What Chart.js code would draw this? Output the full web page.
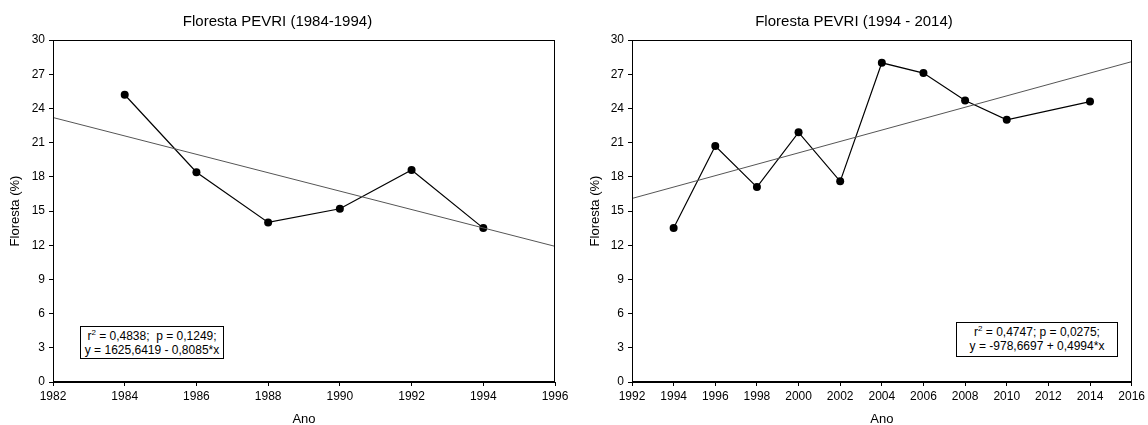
<!DOCTYPE html>
<html>
<head>
<meta charset="utf-8">
<script src="https://cdn.jsdelivr.net/npm/chart.js@4/dist/chart.umd.min.js"></script>
<style>
  body { margin: 0; background: #fff; }
  #wrap { position: relative; width: 1148px; height: 425px; font-family: "Liberation Sans", Arial, sans-serif; }
  .panel { position: absolute; top: 0; width: 574px; height: 425px; }
  .stat {
    position: absolute; background: #fff; border: 1px solid #000;
    font-size: 12px; line-height: 14px; color: #000; text-align: center;
    padding: 2px 0 1px 0; box-sizing: border-box; white-space: nowrap;
  }
  .stat sup { font-size: 8px; line-height: 0; vertical-align: 5px; }
</style>
</head>
<body>
<div id="wrap">
  <div class="panel" style="left:0"><canvas id="chart_a" width="574" height="425"></canvas></div>
  <div class="panel" style="left:574px"><canvas id="chart_b" width="574" height="425"></canvas></div>
  <div class="stat" style="left:80px; top:326px; width:144px; height:33px;">r<sup>2</sup> = 0,4838;&nbsp; p = 0,1249;<br>y = 1625,6419 - 0,8085*x</div>
  <div class="stat" style="left:956px; top:322px; width:162px; height:35px;">r<sup>2</sup> = 0,4747; p = 0,0275;<br>y = -978,6697 + 0,4994*x</div>
</div>
<script>
// period 1984-1994
var years_a = [1984, 1986, 1988, 1990, 1992, 1994];
var forest_a = [25.2, 18.4, 14.0, 15.2, 18.6, 13.5];
var trend_years_a = [1982, 1996];
var trend_vals_a = [23.2, 11.9];

// period 1994-2014
var years_b = [1994, 1996, 1998, 2000, 2002, 2004, 2006, 2008, 2010, 2014];
var forest_b = [13.5, 20.7, 17.1, 21.9, 17.6, 28.0, 27.1, 24.7, 23.0, 24.6];
var trend_years_b = [1992, 2016];
var trend_vals_b = [16.1, 28.1];

var y_ticks = [0, 3, 6, 9, 12, 15, 18, 21, 24, 27, 30];

Chart.defaults.font.family = '"Liberation Sans", Arial, sans-serif';
Chart.defaults.color = '#000';

var boxPlugin = {
  id: 'box',
  afterDraw: function(chart) {
    var a = chart.chartArea, ctx = chart.ctx;
    ctx.save();
    ctx.strokeStyle = '#000';
    ctx.lineWidth = 1;
    ctx.strokeRect(Math.round(a.left) + 0.5, Math.round(a.top) + 0.5,
      Math.round(a.right - a.left) - 1, Math.round(a.bottom - a.top) - 1);
    ctx.restore();
  }
};

function pts(xs, ys) {
  return xs.map(function(x, i) { return {x: x, y: ys[i]}; });
}

function makeChart(id, title, xs, ys, txs, tys, xmin, xmax, yWidth, padRight, yTitlePad) {
  return new Chart(document.getElementById(id), {
    type: 'line',
    data: {
      datasets: [{
        data: pts(txs, tys),
        borderColor: '#555',
        borderWidth: 1,
        pointRadius: 0,
        fill: false
      }, {
        data: pts(xs, ys),
        borderColor: '#000',
        borderWidth: 1.2,
        pointRadius: 4,
        pointBackgroundColor: '#000',
        pointBorderWidth: 0,
        fill: false
      }]
    },
    options: {
      responsive: false,
      animation: false,
      layout: { padding: { left: 0, right: padRight, top: 0, bottom: 0 } },
      plugins: {
        legend: { display: false },
        tooltip: { enabled: false },
        title: {
          display: true,
          text: title,
          font: { size: 15, weight: 'normal' },
          color: '#000',
          padding: { top: 13, bottom: 9 }
        }
      },
      scales: {
        x: {
          type: 'linear',
          min: xmin,
          max: xmax,
          afterFit: function(s) { s.height = 43; },
          ticks: {
            stepSize: 2,
            font: { size: 12 },
            padding: 3,
            maxRotation: 0,
            callback: function(v) { return String(v); }
          },
          grid: { drawOnChartArea: false, tickLength: 4, color: '#000' },
          border: { color: '#000' },
          title: { display: true, text: 'Ano', font: { size: 13 }, padding: { top: 0, bottom: -2 } }
        },
        y: {
          min: 0,
          max: 30,
          afterFit: function(s) { s.width = yWidth; },
          afterBuildTicks: function(s) { s.ticks = y_ticks.map(function(v) { return {value: v}; }); },
          ticks: { font: { size: 12 }, padding: 4 },
          grid: { drawOnChartArea: false, tickLength: 4, color: '#000' },
          border: { color: '#000' },
          title: { display: true, text: 'Floresta (%)', font: { size: 13 }, padding: { top: yTitlePad, bottom: 0 } }
        }
      }
    },
    plugins: [boxPlugin]
  });
}

makeChart('chart_a', 'Floresta PEVRI (1984-1994)', years_a, forest_a, trend_years_a, trend_vals_a, 1982, 1996, 53, 19, 8);
makeChart('chart_b', 'Floresta PEVRI (1994 - 2014)', years_b, forest_b, trend_years_b, trend_vals_b, 1992, 2016, 58, 14, 14);
</script>
</body>
</html>
